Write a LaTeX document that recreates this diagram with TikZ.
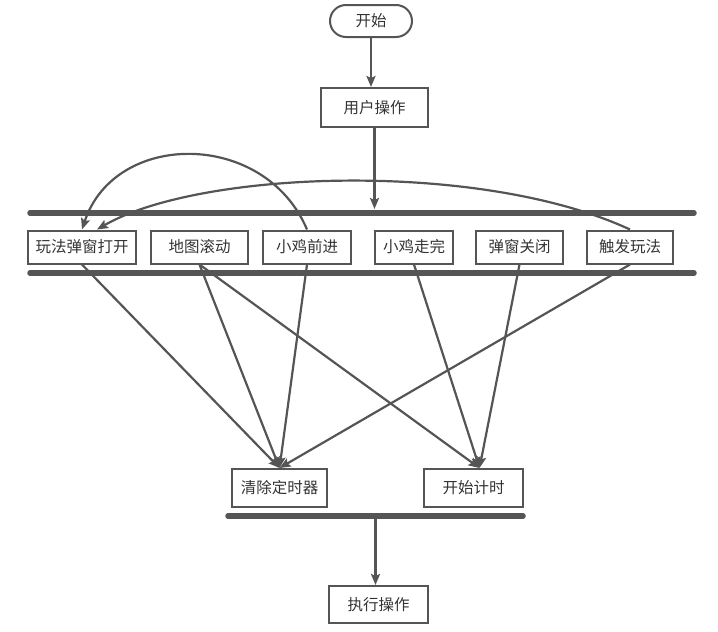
\documentclass[tikz,border=0pt]{standalone}
\usepackage{fontspec}
\newfontfamily\cjk{Noto Sans CJK SC}
\usetikzlibrary{arrows.meta}
\definecolor{linegray}{HTML}{555555}
\definecolor{textgray}{HTML}{333333}
\tikzset{
  box/.style={draw=linegray, line width=2pt, minimum height=33pt, inner sep=0pt, text=textgray, font=\cjk\fontsize{15.5}{18}\selectfont},
  bar/.style={draw=linegray, line width=5.5pt, line cap=round},
  flow/.style={draw=linegray, line width=2.2pt, -{Stealth[length=11pt,width=9pt,inset=2pt]}},
}
\begin{document}
\begin{tikzpicture}[x=1pt,y=-1pt]
\useasboundingbox (0,0) rectangle (718,632);
\node[box, rounded corners=16pt, minimum width=82pt, minimum height=32pt] (start) at (371,21) {开始};
\node[box, minimum width=107pt, minimum height=39pt] (user) at (374.5,107.5) {用户操作};
\draw[bar] (30,213) -- (694,213);
\draw[bar] (30,273) -- (694,273);
\coordinate (forkin) at (374.5,209);
\foreach \nm/\x/\w/\lab in {popopen/82/108/玩法弹窗打开, mapscroll/199.5/97/地图滚动, chickmove/307/88/小鸡前进, chickdone/414/78/小鸡走完, popclose/519.5/87/弹窗关闭, trigger/630/86/触发玩法} {
  \node[box, minimum width=\w pt] (\nm) at (\x,247) {\lab};
}
\node[box, minimum width=95pt, minimum height=38pt] (cleartimer) at (279.5,488) {清除定时器};
\node[box, minimum width=99pt, minimum height=38pt] (starttimer) at (473.5,488) {开始计时};
\draw[bar] (228,516) -- (523,516);
\coordinate (joinout) at (375.5,516);
\node[box, minimum width=99pt, minimum height=37pt] (exec) at (378.5,604.5) {执行操作};
\draw[flow] (start.south) -- (start.south |- user.north);
\draw[flow] (user.south) -- (forkin);
\draw[flow] (chickmove.north) .. controls (265,130) and (115,130) .. (popopen.north);
\draw[flow] (trigger.north) .. controls (480,160) and (200,170) .. ([xshift=15pt]popopen.north);
\foreach \src in {popopen, mapscroll, chickmove, trigger} {
  \draw[flow] (\src.south) -- (cleartimer.north);
}
\foreach \src in {mapscroll, chickdone, popclose} {
  \draw[flow] (\src.south) -- ([xshift=6pt]starttimer.north);
}
\draw[flow] (joinout) -- (joinout |- exec.north);
\end{tikzpicture}
\end{document}
